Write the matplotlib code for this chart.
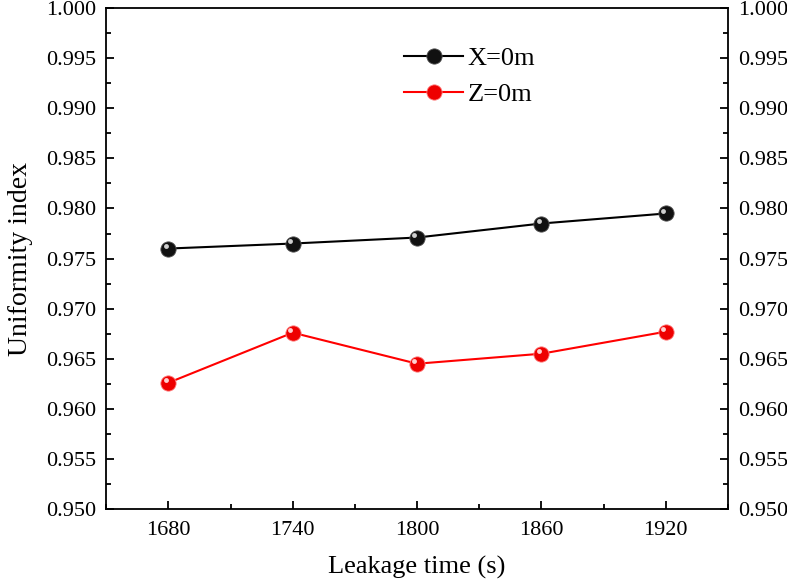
import numpy as np
import matplotlib
matplotlib.use("Agg")
from matplotlib import pyplot as plt
from matplotlib.ticker import MultipleLocator, FormatStrFormatter
import matplotlib.transforms as mtransforms

plt.rcParams['font.family'] = ['Liberation Serif', 'DejaVu Serif']

# data
times = [1680, 1740, 1800, 1860, 1920]
x0_vals = [0.9760, 0.9765, 0.9771, 0.9785, 0.9795]
z0_vals = [0.9626, 0.9676, 0.9645, 0.9655, 0.9677]

fig = plt.figure(figsize=(7.87, 5.83), dpi=100)
ax = fig.add_axes([0.135, 0.127, 0.79, 0.859])

# little shine on the balls, offset a bit up-left
shine = mtransforms.ScaledTranslation(-2 / 72, 2 / 72, fig.dpi_scale_trans)

ax.plot(times, x0_vals, color='black', lw=1.5, marker='o', ms=11,
        mfc='#111111', mec='#555555', mew=0.6, label='X=0m')
ax.plot(times, x0_vals, ls='none', marker='o', ms=3.5, mfc='#cfcfcf', mec='none',
        transform=ax.transData + shine)

ax.plot(times, z0_vals, color='red', lw=1.5, marker='o', ms=11,
        mfc='#ee0000', mec='#ff8080', mew=0.6, label='Z=0m')
ax.plot(times, z0_vals, ls='none', marker='o', ms=3.5, mfc='#ffd0d0', mec='none',
        transform=ax.transData + shine)

ax.set_xlim(1650, 1950)
ax.set_ylim(0.950, 1.000)
ax.set_xticks(times)
ax.xaxis.set_minor_locator(MultipleLocator(30))
ax.yaxis.set_major_locator(MultipleLocator(0.005))
ax.yaxis.set_minor_locator(MultipleLocator(0.0025))
ax.yaxis.set_major_formatter(FormatStrFormatter('%.3f'))

ax.tick_params(which='both', direction='in', right=True, labelright=True,
               top=False, labelsize=16, width=1.3, color='black')
ax.tick_params(which='major', length=6)
ax.tick_params(which='minor', length=3.5)
ax.tick_params(axis='x', pad=9)
ax.tick_params(axis='y', pad=7)
for s in ax.spines.values():
    s.set_linewidth(1.3)

ax.set_xlabel('Leakage time (s)', fontsize=19, labelpad=11)
ax.set_ylabel('Uniformity index', fontsize=20, labelpad=10)

ax.legend(loc='upper center', bbox_to_anchor=(0.585, 0.97), frameon=False,
          fontsize=19, handlelength=2.2, labelspacing=0.45, handletextpad=0.2)

fig.savefig('out.png', dpi=100)
